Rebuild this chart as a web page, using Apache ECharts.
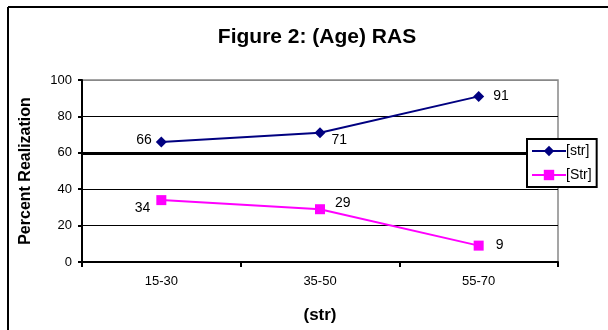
<!DOCTYPE html>
<html>
<head>
<meta charset="utf-8">
<script src="https://cdn.jsdelivr.net/npm/echarts@6/dist/echarts.min.js"></script>
<style>
  html, body { margin: 0; padding: 0; background: #fff; }
  #chart { width: 608px; height: 330px; }
</style>
</head>
<body>
<div id="chart"></div>
<script>
// Age groups and the two realization series (percent)
const categories = ['15-30', '35-50', '55-70'];
const seriesNames = ['[str]', '[Str]'];
const lowerValues = [66, 71, 91];
const upperValues = [34, 29, 9];
const yTicks = [0, 20, 40, 60, 80, 100];

// Placement of each point's value label
const lowerLabelPos = [
  { position: 'left', distance: 4, offset: [0, -2] },
  { position: 'right', distance: 6, offset: [0, 7] },
  { position: 'right', distance: 9, offset: [0, 0] }
];
const upperLabelPos = [
  { position: 'left', distance: 6, offset: [0, 8] },
  { position: 'right', distance: 10, offset: [0, -6] },
  { position: 'right', distance: 12, offset: [0, 0] }
];

const font = 'Arial, "Liberation Sans", sans-serif';

function buildData(values, pos) {
  return values.map((v, i) => ({
    value: v,
    label: Object.assign({ show: true }, pos[i])
  }));
}

const chart = echarts.init(document.getElementById('chart'), null, { renderer: 'canvas' });

chart.setOption({
  animation: false,
  backgroundColor: '#fff',
  title: {
    text: 'Figure 2: (Age) RAS',
    left: 312,
    textAlign: 'center',
    top: 22,
    textStyle: { fontFamily: font, fontSize: 21, fontWeight: 'bold', color: '#000' }
  },
  graphic: [
    // frame lines of the figure panel
    { type: 'line', shape: { x1: 8, y1: 7, x2: 608, y2: 7 }, style: { stroke: '#000', lineWidth: 2 } },
    { type: 'line', shape: { x1: 8, y1: 7, x2: 8, y2: 330 }, style: { stroke: '#000', lineWidth: 2 } }
  ],
  legend: {
    data: seriesNames,
    orient: 'vertical',
    left: 527,
    top: 139,
    itemWidth: 34,
    itemHeight: 13,
    itemGap: 10,
    padding: [5, 5, 5, 4],
    backgroundColor: '#fff',
    borderColor: '#000',
    borderWidth: 2,
    borderRadius: 0,
    textStyle: { fontFamily: font, fontSize: 14, color: '#000', padding: [0, 0, 0, -5] }
  },
  grid: {
    left: 82, right: 50, top: 80, bottom: 68,
    show: true, borderColor: '#888', borderWidth: 1.5, backgroundColor: 'transparent'
  },
  xAxis: {
    type: 'category',
    data: categories,
    boundaryGap: true,
    name: '(str)',
    nameLocation: 'middle',
    nameGap: 45,
    nameTextStyle: { fontFamily: font, fontSize: 17, fontWeight: 'bold', color: '#000' },
    axisLine: { lineStyle: { color: '#000', width: 2 } },
    axisTick: { show: true, length: 5, lineStyle: { color: '#000', width: 2 } },
    axisLabel: { fontFamily: font, fontSize: 13, color: '#000', margin: 13 }
  },
  yAxis: {
    type: 'value',
    min: yTicks[0],
    max: yTicks[yTicks.length - 1],
    interval: 20,
    name: 'Percent Realization',
    nameLocation: 'middle',
    nameGap: 48,
    nameTextStyle: { fontFamily: font, fontSize: 16, fontWeight: 'bold', color: '#000' },
    axisLine: { show: true, lineStyle: { color: '#000', width: 2 } },
    axisTick: { show: true, length: 4, lineStyle: { color: '#000', width: 2 } },
    axisLabel: { fontFamily: font, fontSize: 13, color: '#000', margin: 10 },
    splitLine: { show: true, lineStyle: { color: ['#000', '#000', '#000', '#000', '#000', '#888'], width: 1 } }
  },
  series: [
    {
      name: seriesNames[0],
      type: 'line',
      data: buildData(lowerValues, lowerLabelPos),
      symbol: 'diamond',
      symbolSize: 11,
      color: '#000080',
      lineStyle: { color: '#000080', width: 2 },
      itemStyle: { color: '#000080' },
      label: { fontFamily: font, fontSize: 14, color: '#000' },
      z: 3,
      markLine: {
        silent: true,
        symbol: 'none',
        label: { show: false },
        lineStyle: { color: '#000', width: 3, type: 'solid' },
        data: [{ yAxis: yTicks[3] }],
        z: 1
      }
    },
    {
      name: seriesNames[1],
      type: 'line',
      data: buildData(upperValues, upperLabelPos),
      symbol: 'rect',
      symbolSize: 10,
      color: '#ff00ff',
      lineStyle: { color: '#ff00ff', width: 2 },
      itemStyle: { color: '#ff00ff' },
      label: { fontFamily: font, fontSize: 14, color: '#000' },
      z: 3
    }
  ]
});
</script>
</body>
</html>
